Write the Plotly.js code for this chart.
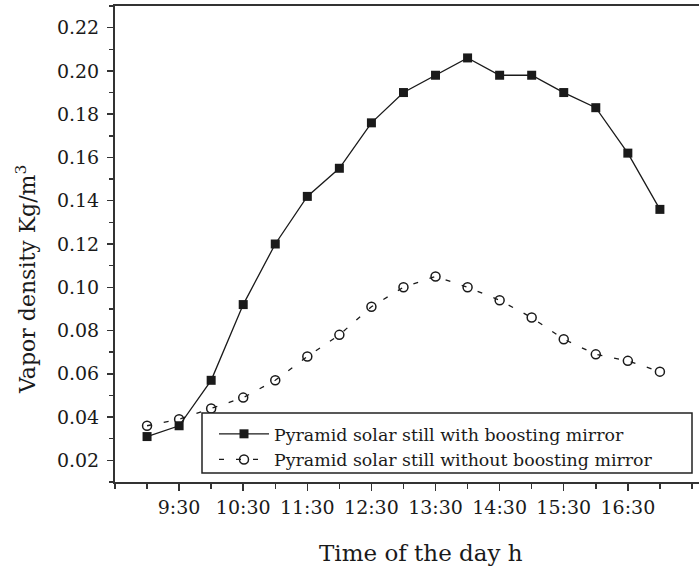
<!DOCTYPE html>
<html>
<head>
<meta charset="utf-8">
<script src="https://cdn.plot.ly/plotly-3.0.1.min.js"></script>
<style>html,body{margin:0;padding:0;background:#fff;}#chart{width:699px;height:566px;}</style>
</head>
<body>
<div id="chart"></div>
<script>
// Time of day in hours (9:00 ... 17:00, every half hour)
const timeHours = [9, 9.5, 10, 10.5, 11, 11.5, 12, 12.5, 13, 13.5, 14, 14.5, 15, 15.5, 16, 16.5, 17];
const withMirror = [0.031, 0.036, 0.057, 0.092, 0.120, 0.142, 0.155, 0.176, 0.190, 0.198, 0.206, 0.198, 0.198, 0.190, 0.183, 0.162, 0.136];
const withoutMirror = [0.036, 0.039, 0.044, 0.049, 0.057, 0.068, 0.078, 0.091, 0.100, 0.105, 0.100, 0.094, 0.086, 0.076, 0.069, 0.066, 0.061];
const xTickVals = [9.5, 10.5, 11.5, 12.5, 13.5, 14.5, 15.5, 16.5];
const xTickText = ['9:30', '10:30', '11:30', '12:30', '13:30', '14:30', '15:30', '16:30'];
const yTickVals = [0.02, 0.04, 0.06, 0.08, 0.10, 0.12, 0.14, 0.16, 0.18, 0.20, 0.22];
const seriesNames = ['Pyramid solar still with boosting mirror', 'Pyramid solar still without boosting mirror'];
const xTitle = 'Time of the day h';
const yTitle = 'Vapor density Kg/m<sup>3</sup>';

const serif = 'DejaVu Serif, Liberation Serif, serif';
const ink = '#1a1a1a';

// plot area geometry (px) used only to convert layout positions to paper fractions
const L = 115, T = 6, W = 584, H = 476;
const px = v => (v - L) / W;
const py = v => (T + H - v) / H;

const traces = [
  {
    x: timeHours, y: withMirror, name: seriesNames[0],
    mode: 'lines+markers', type: 'scatter',
    line: {color: ink, width: 1.3},
    marker: {symbol: 'square', size: 9, color: ink}
  },
  {
    x: timeHours, y: withoutMirror, name: seriesNames[1],
    mode: 'lines+markers', type: 'scatter',
    line: {color: ink, width: 1.3, dash: '5px,12px'},
    marker: {symbol: 'circle-open', size: 9, color: ink, line: {width: 1.5}}
  }
];

const layout = {
  width: 699, height: 566,
  margin: {l: L, r: 699 - L - W, t: T, b: 566 - T - H},
  paper_bgcolor: '#fff', plot_bgcolor: '#fff',
  showlegend: true,
  font: {family: serif, color: ink},
  xaxis: {
    range: [8.5, 17.61],
    tickmode: 'array', tickvals: xTickVals, ticktext: xTickText,
    ticks: 'outside', ticklen: 7, tickwidth: 1.5, tickcolor: '#333',
    minor: {tickmode: 'linear', tick0: 8.5, dtick: 0.5, ticks: 'outside', ticklen: 5, tickwidth: 1.5, tickcolor: '#333'},
    showline: true, linecolor: '#333', linewidth: 2, mirror: true,
    showgrid: false, zeroline: false,
    tickfont: {family: serif, size: 19, color: ink},
    automargin: false
  },
  yaxis: {
    range: [0.01, 0.23],
    tickmode: 'array', tickvals: yTickVals, tickformat: '.2f',
    ticks: 'outside', ticklen: 6, tickwidth: 1.5, tickcolor: '#333',
    minor: {tickmode: 'linear', tick0: 0.01, dtick: 0.01, ticks: 'outside', ticklen: 4, tickwidth: 1.5, tickcolor: '#333'},
    showline: true, linecolor: '#333', linewidth: 2, mirror: false,
    showgrid: false, zeroline: false,
    tickfont: {family: serif, size: 19, color: ink},
    ticklabelstandoff: 4,
    automargin: false
  },
  shapes: [
    {type: 'rect', xref: 'paper', yref: 'paper', layer: 'above',
     x0: px(202), x1: px(692), y0: py(473), y1: py(413),
     fillcolor: '#fff', line: {color: '#222', width: 1.5}}
  ],
  annotations: [
    {text: xTitle, xref: 'paper', yref: 'paper', x: px(421), y: py(553),
     xanchor: 'center', yanchor: 'middle', showarrow: false,
     font: {family: serif, size: 23, color: ink}},
    {text: yTitle, xref: 'paper', yref: 'paper', x: px(26), y: py(280),
     xanchor: 'center', yanchor: 'middle', showarrow: false, textangle: -90,
     font: {family: serif, size: 22, color: ink}}
  ],
  legend: {
    x: px(214), y: py(416), xanchor: 'left', yanchor: 'top',
    bgcolor: 'rgba(0,0,0,0)', borderwidth: 0,
    font: {family: serif, size: 17.4, color: ink},
    itemwidth: 50, tracegroupgap: 0
  }
};

Plotly.newPlot('chart', traces, layout, {displayModeBar: false, staticPlot: true});
</script>
</body>
</html>
